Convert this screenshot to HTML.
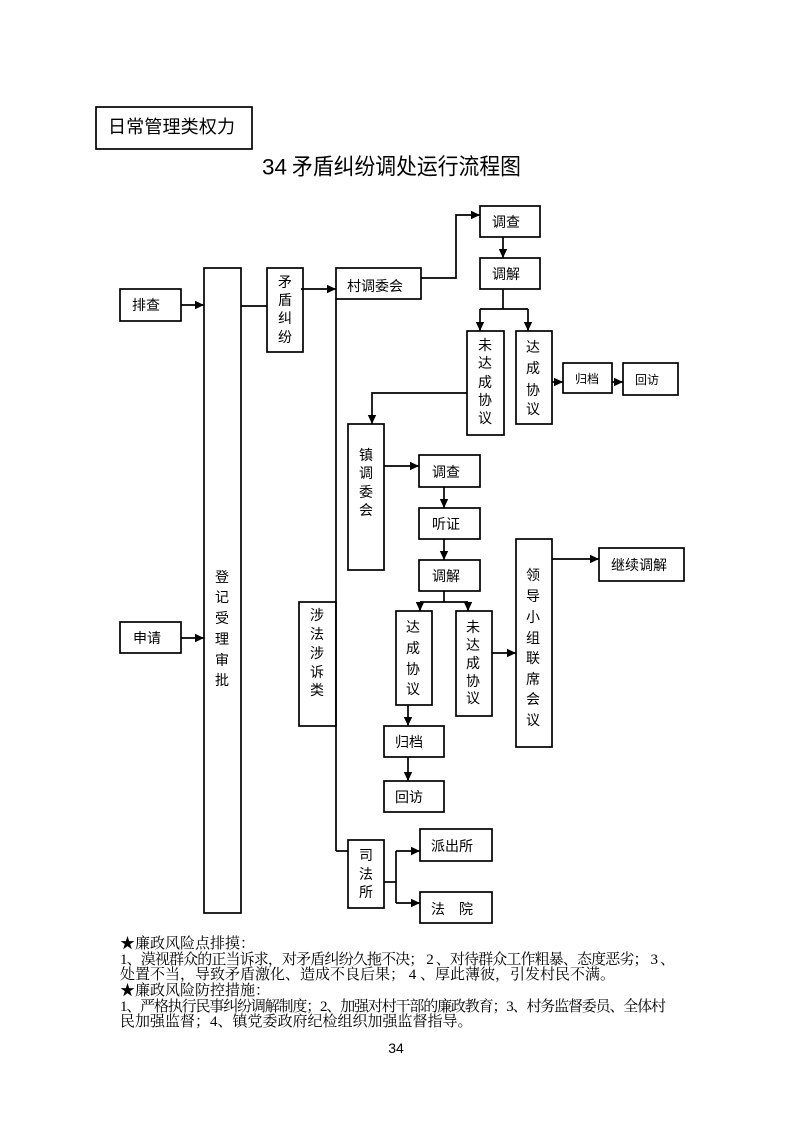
<!DOCTYPE html>
<html>
<head>
<meta charset="utf-8">
<style>
html,body{margin:0;padding:0;background:#fff;}
body{width:793px;height:1122px;overflow:hidden;}
svg{display:block;}
.s{font-family:"Liberation Sans","Noto Sans CJK SC",sans-serif;fill:#000;}
.b{font-family:"Liberation Serif","Noto Serif CJK SC",serif;fill:#000;font-size:15px;}
</style>
</head>
<body>
<svg width="793" height="1122" viewBox="0 0 793 1122" xmlns="http://www.w3.org/2000/svg">
<defs>
<marker id="ar" markerUnits="userSpaceOnUse" markerWidth="10" markerHeight="10" refX="9" refY="5" orient="auto">
<path d="M0,0.8 L9,5 L0,9.2 Z" fill="#000"/>
</marker>
</defs>

<!-- header -->
<rect x="96" y="107" width="156" height="42" fill="none" stroke="#000" stroke-width="1.7"/>
<text class="s" x="108" y="127" font-size="18" dominant-baseline="central" textLength="127">日常管理类权力</text>
<text class="s" x="262" y="167" font-size="22.5" dominant-baseline="central">34</text>
<text class="s" x="292" y="167" font-size="22.5" dominant-baseline="central" textLength="229" lengthAdjust="spacingAndGlyphs">矛盾纠纷调处运行流程图</text>

<g fill="none" stroke="#000" stroke-width="1.7">
<!-- boxes -->
<rect x="120" y="289" width="61" height="32"/>
<rect x="120" y="622" width="61" height="31"/>
<rect x="204" y="268" width="37" height="645"/>
<rect x="267" y="268" width="36" height="84"/>
<rect x="336" y="268" width="85" height="31"/>
<rect x="480" y="206" width="60" height="31"/>
<rect x="480" y="258" width="60" height="31"/>
<rect x="467" y="331" width="37" height="104"/>
<rect x="516" y="331" width="36" height="93"/>
<rect x="563" y="363" width="49" height="30"/>
<rect x="623" y="363" width="55" height="32"/>
<rect x="348" y="424" width="36" height="146"/>
<rect x="419" y="455" width="61" height="32"/>
<rect x="419" y="508" width="61" height="31"/>
<rect x="419" y="560" width="61" height="31"/>
<rect x="396" y="611" width="36" height="94"/>
<rect x="456" y="611" width="36" height="105"/>
<rect x="516" y="539" width="36" height="208"/>
<rect x="599" y="548" width="85" height="33"/>
<rect x="299" y="602" width="37" height="124"/>
<rect x="384" y="726" width="60" height="31"/>
<rect x="384" y="781" width="60" height="31"/>
<rect x="348" y="840" width="36" height="68"/>
<rect x="420" y="829" width="72" height="32"/>
<rect x="420" y="892" width="72" height="31"/>

<!-- connectors -->
<line x1="181" y1="305" x2="204" y2="305" marker-end="url(#ar)"/>
<line x1="181" y1="638" x2="204" y2="638" marker-end="url(#ar)"/>
<line x1="241" y1="306" x2="267" y2="306"/>
<line x1="301" y1="289" x2="336" y2="289" marker-end="url(#ar)"/>
<line x1="336" y1="299" x2="336" y2="851"/>
<polyline points="421,278 456,278 456,215 480,215" marker-end="url(#ar)"/>
<line x1="503" y1="237" x2="503" y2="258" marker-end="url(#ar)"/>
<line x1="503" y1="289" x2="503" y2="309"/>
<line x1="480" y1="309" x2="528" y2="309"/>
<line x1="480" y1="309" x2="480" y2="331" marker-end="url(#ar)"/>
<line x1="528" y1="309" x2="528" y2="331" marker-end="url(#ar)"/>
<line x1="552" y1="382" x2="563" y2="382" marker-end="url(#ar)"/>
<line x1="612" y1="382" x2="623" y2="382" marker-end="url(#ar)"/>
<polyline points="467,393 372,393 372,424" marker-end="url(#ar)"/>
<line x1="384" y1="466" x2="419" y2="466" marker-end="url(#ar)"/>
<line x1="444" y1="487" x2="444" y2="508" marker-end="url(#ar)"/>
<line x1="444" y1="539" x2="444" y2="560" marker-end="url(#ar)"/>
<line x1="444" y1="591" x2="444" y2="602"/>
<line x1="420" y1="602" x2="468" y2="602"/>
<line x1="420" y1="602" x2="420" y2="611" marker-end="url(#ar)"/>
<line x1="468" y1="602" x2="468" y2="611" marker-end="url(#ar)"/>
<line x1="492" y1="653" x2="516" y2="653" marker-end="url(#ar)"/>
<line x1="552" y1="559" x2="599" y2="559" marker-end="url(#ar)"/>
<line x1="408" y1="705" x2="408" y2="726" marker-end="url(#ar)"/>
<line x1="408" y1="757" x2="408" y2="781" marker-end="url(#ar)"/>
<line x1="336" y1="851" x2="348" y2="851"/>
<line x1="384" y1="882" x2="396" y2="882"/>
<line x1="396" y1="851" x2="396" y2="903"/>
<line x1="396" y1="851" x2="420" y2="851" marker-end="url(#ar)"/>
<line x1="396" y1="903" x2="420" y2="903" marker-end="url(#ar)"/>
</g>

<!-- horizontal labels -->
<g class="s" font-size="14">
<text x="132" y="305" dominant-baseline="central">排查</text>
<text x="133" y="638" dominant-baseline="central">申请</text>
<text x="347" y="286" dominant-baseline="central">村调委会</text>
<text x="492" y="222" dominant-baseline="central">调查</text>
<text x="492" y="274" dominant-baseline="central">调解</text>
<text x="432" y="472" dominant-baseline="central">调查</text>
<text x="432" y="524" dominant-baseline="central">听证</text>
<text x="432" y="576" dominant-baseline="central">调解</text>
<text x="611" y="565" dominant-baseline="central">继续调解</text>
<text x="395" y="742" dominant-baseline="central">归档</text>
<text x="395" y="797" dominant-baseline="central">回访</text>
<text x="431" y="846" dominant-baseline="central">派出所</text>
<text x="431" y="909" dominant-baseline="central">法　院</text>
</g>
<g class="s" font-size="12">
<text x="575" y="379" dominant-baseline="central">归档</text>
<text x="635" y="380" dominant-baseline="central">回访</text>
</g>

<!-- vertical labels -->
<g class="s" font-size="14" text-anchor="middle">
<text x="222" y="577" dominant-baseline="central">登</text>
<text x="222" y="597" dominant-baseline="central">记</text>
<text x="222" y="618" dominant-baseline="central">受</text>
<text x="222" y="639" dominant-baseline="central">理</text>
<text x="222" y="660" dominant-baseline="central">审</text>
<text x="222" y="680" dominant-baseline="central">批</text>

<text x="285" y="282" dominant-baseline="central">矛</text>
<text x="285" y="300" dominant-baseline="central">盾</text>
<text x="285" y="318" dominant-baseline="central">纠</text>
<text x="285" y="337" dominant-baseline="central">纷</text>

<text x="485" y="345" dominant-baseline="central">未</text>
<text x="485" y="363" dominant-baseline="central">达</text>
<text x="485" y="382" dominant-baseline="central">成</text>
<text x="485" y="400" dominant-baseline="central">协</text>
<text x="485" y="418" dominant-baseline="central">议</text>

<text x="533" y="347" dominant-baseline="central">达</text>
<text x="533" y="368" dominant-baseline="central">成</text>
<text x="533" y="390" dominant-baseline="central">协</text>
<text x="533" y="409" dominant-baseline="central">议</text>

<text x="366" y="455" dominant-baseline="central">镇</text>
<text x="366" y="473" dominant-baseline="central">调</text>
<text x="366" y="492" dominant-baseline="central">委</text>
<text x="366" y="510" dominant-baseline="central">会</text>

<text x="413" y="627" dominant-baseline="central">达</text>
<text x="413" y="648" dominant-baseline="central">成</text>
<text x="413" y="669" dominant-baseline="central">协</text>
<text x="413" y="689" dominant-baseline="central">议</text>

<text x="473" y="627" dominant-baseline="central">未</text>
<text x="473" y="645" dominant-baseline="central">达</text>
<text x="473" y="663" dominant-baseline="central">成</text>
<text x="473" y="681" dominant-baseline="central">协</text>
<text x="473" y="698" dominant-baseline="central">议</text>

<text x="533" y="575" dominant-baseline="central">领</text>
<text x="533" y="596" dominant-baseline="central">导</text>
<text x="533" y="617" dominant-baseline="central">小</text>
<text x="533" y="638" dominant-baseline="central">组</text>
<text x="533" y="658" dominant-baseline="central">联</text>
<text x="533" y="679" dominant-baseline="central">席</text>
<text x="533" y="699" dominant-baseline="central">会</text>
<text x="533" y="720" dominant-baseline="central">议</text>

<text x="317" y="615" dominant-baseline="central">涉</text>
<text x="317" y="634" dominant-baseline="central">法</text>
<text x="317" y="653" dominant-baseline="central">涉</text>
<text x="317" y="672" dominant-baseline="central">诉</text>
<text x="317" y="690" dominant-baseline="central">类</text>

<text x="366" y="855" dominant-baseline="central">司</text>
<text x="366" y="874" dominant-baseline="central">法</text>
<text x="366" y="892" dominant-baseline="central">所</text>
</g>

<!-- bottom notes -->
<text class="b" x="120" y="944" dominant-baseline="central">★廉政风险点排摸：</text>
<text class="b" x="120" y="960" dominant-baseline="central" textLength="555" lengthAdjust="spacing">1、漠视群众的正当诉求，对矛盾纠纷久拖不决； 2 、对待群众工作粗暴、态度恶劣； 3 、</text>
<text class="b" x="120" y="975" dominant-baseline="central">处置不当，导致矛盾激化、造成不良后果； 4 、厚此薄彼，引发村民不满。</text>
<text class="b" x="120" y="991" dominant-baseline="central">★廉政风险防控措施：</text>
<text class="b" x="120" y="1007" dominant-baseline="central" textLength="546" lengthAdjust="spacing">1、严格执行民事纠纷调解制度；2、加强对村干部的廉政教育；3、村务监督委员、全体村</text>
<text class="b" x="120" y="1022" dominant-baseline="central">民加强监督；4、镇党委政府纪检组织加强监督指导。</text>

<text class="s" x="396" y="1048" font-size="14" text-anchor="middle" dominant-baseline="central">34</text>
</svg>
</body>
</html>
